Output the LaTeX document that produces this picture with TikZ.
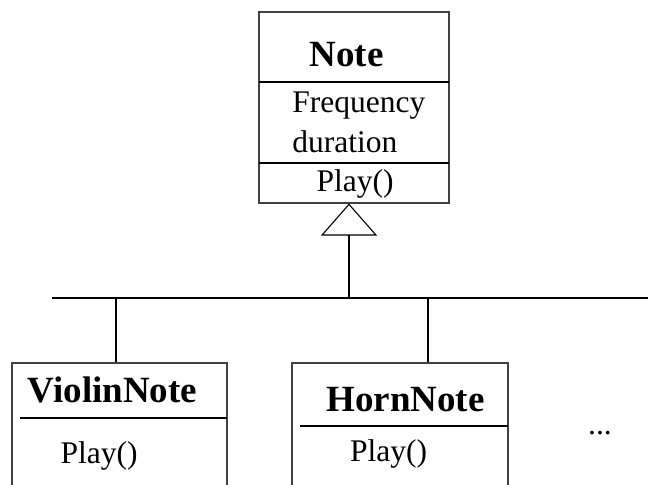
\documentclass[tikz,border=0pt]{standalone}
\usepackage{fontspec}
\setmainfont{Liberation Serif}
\usetikzlibrary{arrows.meta}
\tikzset{
  classbox/.style={draw=black!75, line width=0.55pt, inner sep=0pt},
  wire/.style={line width=1.1pt},
  compsep/.style={line width=1.1pt},
  classname/.style={font=\fontsize{18.5}{22}\selectfont\bfseries, inner sep=0pt},
  member/.style={font=\fontsize{15.75}{19}\selectfont, inner sep=0pt},
}

\begin{document}
\begin{tikzpicture}[x=0.5pt,y=-0.5pt]
\useasboundingbox (0,0) rectangle (648,485);
\clip (0,0) rectangle (648,485);
% class boxes:
\node[classbox, minimum width=95pt, minimum height=95.5pt] (note) at (354,107.5) {};
\node[classbox, minimum width=107.5pt, minimum height=68.5pt] (violin) at (119.5,431.5) {};
\node[classbox, minimum width=108pt, minimum height=68.5pt] (horn) at (400,431.5) {};
% compartments:
\draw[compsep] (259,82) -- (449,82)
               (259,163) -- (449,163)
               (20,418) -- (227,418)
               (300,426) -- (508,426);
% labels:
\node[classname, anchor=base] (noteName) at (346.5,67) {Note};
\node[member, anchor=base west] (noteFreq) at (292,113) {Frequency};
\node[member, anchor=base west] (noteDur) at (292,153) {duration};
\node[member, anchor=base] (notePlay) at (355,192) {Play()};
\node[classname, anchor=base] (violinName) at (112.5,403) {ViolinNote};
\node[member, anchor=base] (violinPlay) at (99,464) {Play()};
\node[classname, anchor=base] (hornName) at (405.5,412) {HornNote};
\node[member, anchor=base] (hornPlay) at (388.5,462) {Play()};
\node[member, anchor=base] (more) at (600,435) {...};
% inheritance:
\coordinate (busL) at (52,298);
\coordinate (busR) at (648,298);
\coordinate (busN) at (349,298);
\coordinate (busV) at (116,298);
\coordinate (busH) at (428,298);
\draw[wire] (busL) -- (busR);
\draw[wire, -{Triangle[open, length=16pt, width=28pt, line width=0.55pt]}]
  (busN) -- (busN |- note.south);
\draw[wire] (busV) -- (busV |- violin.north);
\draw[wire] (busH) -- (busH |- horn.north);
\end{tikzpicture}
\end{document}
